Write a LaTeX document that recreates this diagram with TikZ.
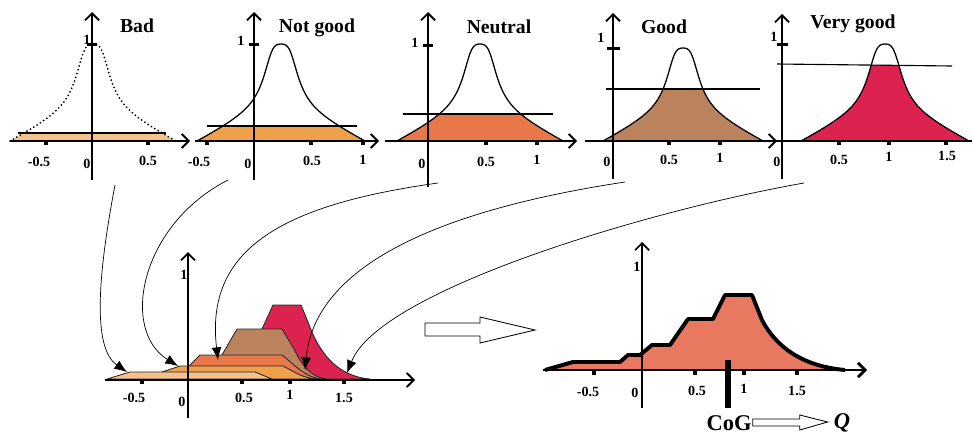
\documentclass[tikz,border=0pt]{standalone}
\usepackage{fontspec}
\setmainfont{Liberation Serif}
\usetikzlibrary{arrows.meta,calc}

\definecolor{badfill}{HTML}{F6C18D}
\definecolor{notgoodfill}{HTML}{EFA04B}
\definecolor{neutralfill}{HTML}{E8784A}
\definecolor{goodfill}{HTML}{BA835E}
\definecolor{verygoodfill}{HTML}{DC2350}
\definecolor{resultfill}{HTML}{E97860}

\begin{document}
\begin{tikzpicture}[x=0.025cm, y=-0.025cm,
    axis/.style={line width=1.3pt, -{Straight Barb[length=5pt,width=10pt]}},
    bellcurve/.style={line width=0.9pt},
    cutline/.style={line width=0.8pt},
    title/.style={font=\fontsize{14}{14}\selectfont\bfseries},
    ticklab/.style={font=\fontsize{10}{10}\selectfont\bfseries, inner sep=0pt},
    cogtext/.style={font=\fontsize{16}{16}\selectfont\bfseries, inner sep=0pt},
    link/.style={line width=0.5pt, -{Latex[length=9pt,width=7pt]}},
    piece/.style={draw=black!85, line width=0.6pt, line join=round},
    hollow/.style={draw, fill=white, line width=0.6pt, line join=miter},
    declare function={bell(\u)=(0.6/sqrt(1+(\u*\u/0.027225)*(\u*\u/0.027225))
        +0.4*(1.005-sqrt(\u*\u+0.01))/0.905-0.0163)/0.9837;}]

    \useasboundingbox (0,0) rectangle (972,434);

    % Bad
    \begin{scope}
        \clip (0,133) rectangle (200,141);
        \fill[badfill] plot[domain=-1:1, samples=90] ({93+83*\x},{141-97*bell(\x)}) -- cycle;
    \end{scope}
    \draw[line width=1.4pt, dash pattern=on 0pt off 2.8pt, line cap=round]
        plot[domain=-1:1, samples=90] ({93+83*\x},{141-97*bell(\x)});
    \draw[cutline] (18,133) -- (166,133);
    \draw[axis] (10,141) -- (190,141);
    \draw[axis] (92,180) -- (92,12);
    \fill (87,42.5) rectangle (97,45.5);
    \fill (44,141) rectangle (48,145);
    \fill (146,141) rectangle (150,145);
    \node[title] (bad) at (137,26) {Bad};
    \node[ticklab] (bad-one) at (87,40) {1};
    \node[ticklab] (bad-m05) at (39,162) {-0.5};
    \node[ticklab] (bad-0) at (87,164) {0};
    \node[ticklab] (bad-05) at (148,161) {0.5};

    % Not good
    \begin{scope}
        \clip (180,126) rectangle (380,141);
        \fill[notgoodfill] plot[domain=-1:1, samples=90] ({281+84*\x},{141-97*bell(\x)}) -- cycle;
    \end{scope}
    \draw[bellcurve] plot[domain=-1:1, samples=90] ({281+84*\x},{141-97*bell(\x)});
    \draw[cutline] (207,126) -- (357,126);
    \draw[axis] (195,141) -- (379,141);
    \draw[axis] (254,180) -- (254,12);
    \fill (249,42.5) rectangle (259,45.5);
    \fill (205,141) rectangle (209,145);
    \fill (309,141) rectangle (313,145);
    \fill (361,141) rectangle (365,145);
    \node[title] (notgood) at (317,28) {Not good};
    \node[ticklab] (ng-one) at (241,41) {1};
    \node[ticklab] (ng-m05) at (199,162) {-0.5};
    \node[ticklab] (ng-0) at (248,164) {0};
    \node[ticklab] (ng-05) at (312,161) {0.5};
    \node[ticklab] (ng-1) at (363,160) {1};

    % Neutral
    \begin{scope}
        \clip (380,114) rectangle (580,141);
        \fill[neutralfill] plot[domain=-1:1, samples=90] ({480+83*\x},{141-97*bell(\x)}) -- cycle;
    \end{scope}
    \draw[bellcurve] plot[domain=-1:1, samples=90] ({480+83*\x},{141-97*bell(\x)});
    \draw[cutline] (403,114) -- (553,114);
    \draw[axis] (385,141) -- (577,141);
    \draw[axis] (428,187) -- (428,12);
    \fill (423,43.5) rectangle (433,46.5);
    \fill (484,141) rectangle (488,145);
    \fill (535,141) rectangle (539,145);
    \node[title] (neutral) at (499,27) {Neutral};
    \node[ticklab] (ne-one) at (415,43) {1};
    \node[ticklab] (ne-0) at (422,164) {0};
    \node[ticklab] (ne-05) at (486,162) {0.5};
    \node[ticklab] (ne-1) at (537,160) {1};

    % Good
    \begin{scope}
        \clip (580,89) rectangle (780,141);
        \fill[goodfill] plot[domain=-1:1, samples=90] ({683+80*\x},{141-93*bell(\x)}) -- cycle;
    \end{scope}
    \draw[bellcurve] plot[domain=-1:1, samples=90] ({683+80*\x},{141-93*bell(\x)});
    \draw[cutline] (606,89) -- (760,89);
    \draw[axis] (585,141) -- (777,141);
    \draw[axis] (613,179) -- (613,13);
    \fill (607,46.5) rectangle (620,49.5);
    \fill (667,141) rectangle (671,145);
    \fill (718,141) rectangle (722,145);
    \node[title] (good) at (664,27) {Good};
    \node[ticklab] (go-one) at (601,38) {1};
    \node[ticklab] (go-0) at (607,162) {0};
    \node[ticklab] (go-05) at (669,160) {0.5};
    \node[ticklab] (go-1) at (720,158) {1};

    % Very good
    \begin{scope}
        \clip (777,64) -- (952,66) -- (972,66) -- (972,141) -- (777,141) -- cycle;
        \fill[verygoodfill] plot[domain=-1:1, samples=90] ({885+84*\x},{141-97*bell(\x)}) -- cycle;
    \end{scope}
    \draw[bellcurve] plot[domain=-1:1, samples=90] ({885+84*\x},{141-97*bell(\x)});
    \draw[cutline] (777,64) -- (952,66);
    \draw[line width=1.3pt] (775,141) -- (972,141);
    \draw[axis] (782,179) -- (782,14);
    \fill (777,42.5) rectangle (788,45.5);
    \fill (837,141) rectangle (841,145);
    \fill (887,141) rectangle (891,145);
    \fill (944,141) rectangle (948,145);
    \node[title] (verygood) at (853,24) {Very good};
    \node[ticklab] (vg-one) at (774,37) {1};
    \node[ticklab] (vg-0) at (777,162) {0};
    \node[ticklab] (vg-05) at (839,160) {0.5};
    \node[ticklab] (vg-1) at (889,157) {1};
    \node[ticklab] (vg-15) at (947,156) {1.5};

    % union of the cut sets
    \filldraw[piece, fill=verygoodfill] (239,379) -- (273,305) -- (301,305) -- (308,322)
        .. controls (318,350) and (335,376) .. (370,379) -- cycle;
    \filldraw[piece, fill=goodfill] (208,379) -- (237,329) -- (282,329) -- (294,349)
        .. controls (302,365) and (310,377) .. (327,379) -- cycle;
    \filldraw[piece, fill=neutralfill] (176,379) -- (200,355) -- (282,355)
        .. controls (295,365) and (305,378) .. (323,379) -- cycle;
    \filldraw[piece, fill=notgoodfill] (141,379) -- (180,366) -- (283,366)
        .. controls (295,372) and (302,378) .. (317,379) -- cycle;
    \filldraw[piece, fill=badfill] (107,379) -- (130,372) -- (255,372) -- (272,379) -- cycle;
    \draw[axis] (105,380) -- (415,380);
    \draw[axis] (188,418) -- (188,252);
    \fill (140,380) rectangle (144,384);
    \fill (240,380) rectangle (244,384);
    \fill (288,380) rectangle (292,384);
    \fill (342,380) rectangle (346,384);
    \node[ticklab] (un-one) at (184,275) {1};
    \node[ticklab] (un-m05) at (134,398) {-0.5};
    \node[ticklab] (un-0) at (182,402) {0};
    \node[ticklab] (un-05) at (244,398) {0.5};
    \node[ticklab] (un-1) at (290,395) {1};
    \node[ticklab] (un-15) at (344,398) {1.5};

    \coordinate (bad-out) at (115,185);
    \coordinate (bad-in) at (127,372);
    \coordinate (ng-out) at (228,180);
    \coordinate (ng-in) at (178,366);
    \coordinate (ne-out) at (438,183);
    \coordinate (ne-in) at (218,360);
    \coordinate (go-out) at (625,182);
    \coordinate (go-in) at (305,370);
    \coordinate (vg-out) at (804,183);
    \coordinate (vg-in) at (347,373);
    \draw[link] (bad-out) .. controls (95,290) and (95,350) .. (bad-in);
    \draw[link] (ng-out) .. controls (140,225) and (120,330) .. (ng-in);
    \draw[link] (ne-out) .. controls (280,205) and (205,250) .. (ne-in);
    \draw[link] (go-out) .. controls (440,210) and (315,265) .. (go-in);
    \draw[link] (vg-out) .. controls (650,210) and (380,290) .. (vg-in);

    \draw[hollow] (425,323) -- (480,323) -- (480,317) -- (535,330) -- (480,343) -- (480,336) -- (425,336) -- cycle;

    % defuzzified result
    \fill[resultfill] (545,370) -- (573,362) -- (620,362) -- (628,355) -- (640,355) -- (652,345)
        -- (670,345) -- (688,319) -- (713,319) -- (725,295) -- (752,295) -- (762,320)
        .. controls (775,345) and (800,366) .. (845,370) -- cycle;
    \draw[line width=2.8pt, line join=round] (545,370) -- (573,362) -- (620,362) -- (628,355)
        -- (640,355) -- (652,345) -- (670,345) -- (688,319) -- (713,319) -- (725,295)
        -- (752,295) -- (762,320) .. controls (775,345) and (800,366) .. (845,370);
    \draw[line width=2pt, -{Straight Barb[length=5pt,width=10pt]}] (543,370) -- (867,370);
    \draw[axis, line width=1.2pt] (642,408) -- (642,242);
    \fill (592,370) rectangle (596,375);
    \fill (693,370) rectangle (697,375);
    \fill (742,370) rectangle (746,375);
    \fill (795,370) rectangle (799,375);
    \draw[line width=4pt] (728,360) -- (728,408);
    \node[ticklab] (re-one) at (637,267) {1};
    \node[ticklab] (re-m05) at (588,392) {-0.5};
    \node[ticklab] (re-0) at (635,393) {0};
    \node[ticklab] (re-05) at (697,391) {0.5};
    \node[ticklab] (re-1) at (744,389) {1};
    \node[ticklab] (re-15) at (797,391) {1.5};

    \node[cogtext] (cog) at (729,423) {CoG};
    \node[cogtext] (q) at (842,423) {\itshape Q};
    \draw[hollow] ($(cog.east)+(1,-4)$) -- ++(47,0) -- ++(0,-4) -- ($(q.west)+(-6,-1)$)
        -- ($(cog.east)+(48,7)$) -- ++(0,-4) -- ($(cog.east)+(1,3)$) -- cycle;
\end{tikzpicture}
\end{document}
